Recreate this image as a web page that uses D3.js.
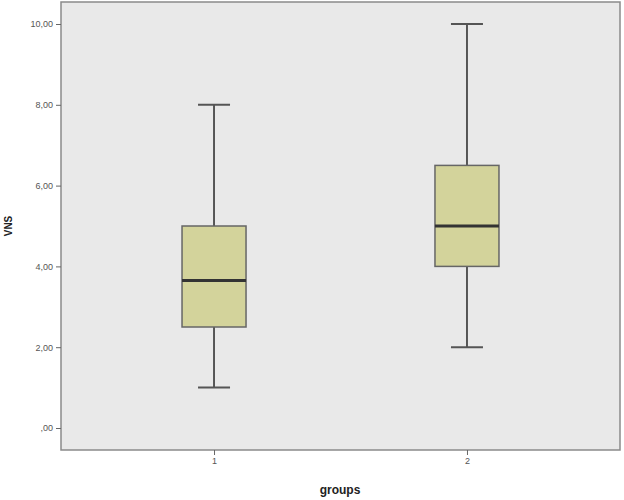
<!DOCTYPE html>
<html>
<head>
<meta charset="utf-8">
<script src="https://cdn.jsdelivr.net/npm/d3@7"></script>
<style>
  body { margin: 0; background: #fff; }
</style>
</head>
<body>
<svg width="624" height="500"></svg>
<script>
// box plot values
var groups = ["1", "2"];
var whiskerLow = [1, 2];
var q1 = [2.5, 4.0];
var median = [3.65, 5.0];
var q3 = [5.0, 6.5];
var whiskerHigh = [8, 10];
var yTicks = [0, 2, 4, 6, 8, 10];

var svg = d3.select("svg");
var plotLeft = 61, plotRight = 620, plotTop = 2, plotBottom = 450;

var xScale = d3.scalePoint().domain(groups).range([plotLeft, plotRight]).padding(0.605);
var yScale = d3.scaleLinear().domain([0, 10]).range([428, 24]);

// plot background + frame
svg.append("rect")
    .attr("x", plotLeft).attr("y", plotTop)
    .attr("width", plotRight - plotLeft).attr("height", plotBottom - plotTop)
    .style("fill", "#e9e9e9")
    .style("stroke", "#8a8a8a")
    .style("stroke-width", 1.5);

var fmt = function(d) { return d3.format(".2f")(d).replace(".", ",").replace(/^0,/, ","); };

var yAxis = svg.append("g")
    .attr("transform", "translate(" + plotLeft + ",0)")
    .call(d3.axisLeft(yScale).tickValues(yTicks).tickSize(5).tickFormat(fmt));
yAxis.select(".domain").remove();
yAxis.selectAll("line").style("stroke", "#666");
yAxis.selectAll("text")
    .style("font-family", "Arial, 'Liberation Sans'")
    .style("font-size", "9px")
    .style("fill", "#555");

var xAxis = svg.append("g")
    .attr("transform", "translate(0," + plotBottom + ")")
    .call(d3.axisBottom(xScale).tickSize(5));
xAxis.select(".domain").remove();
xAxis.selectAll("line").style("stroke", "#666");
xAxis.selectAll("text")
    .style("font-family", "Arial, 'Liberation Sans'")
    .style("font-size", "9px")
    .style("fill", "#555");

var boxW = 64, capW = 32;
var data = groups.map(function(g, i) {
    return { g: g, lo: whiskerLow[i], q1: q1[i], med: median[i], q3: q3[i], hi: whiskerHigh[i] };
});

var box = svg.append("g").selectAll("g").data(data).enter().append("g");

// whiskers
box.append("line")
    .attr("x1", function(d) { return xScale(d.g); })
    .attr("x2", function(d) { return xScale(d.g); })
    .attr("y1", function(d) { return yScale(d.hi); })
    .attr("y2", function(d) { return yScale(d.q3); })
    .style("stroke", "#555").style("stroke-width", 2);
box.append("line")
    .attr("x1", function(d) { return xScale(d.g); })
    .attr("x2", function(d) { return xScale(d.g); })
    .attr("y1", function(d) { return yScale(d.q1); })
    .attr("y2", function(d) { return yScale(d.lo); })
    .style("stroke", "#555").style("stroke-width", 2);
box.append("line")
    .attr("x1", function(d) { return xScale(d.g) - capW / 2; })
    .attr("x2", function(d) { return xScale(d.g) + capW / 2; })
    .attr("y1", function(d) { return yScale(d.hi); })
    .attr("y2", function(d) { return yScale(d.hi); })
    .style("stroke", "#555").style("stroke-width", 2);
box.append("line")
    .attr("x1", function(d) { return xScale(d.g) - capW / 2; })
    .attr("x2", function(d) { return xScale(d.g) + capW / 2; })
    .attr("y1", function(d) { return yScale(d.lo); })
    .attr("y2", function(d) { return yScale(d.lo); })
    .style("stroke", "#555").style("stroke-width", 2);

// boxes
box.append("rect")
    .attr("x", function(d) { return xScale(d.g) - boxW / 2; })
    .attr("y", function(d) { return yScale(d.q3); })
    .attr("width", boxW)
    .attr("height", function(d) { return yScale(d.q1) - yScale(d.q3); })
    .style("fill", "#d3d39b")
    .style("stroke", "#666")
    .style("stroke-width", 1.5);

// medians
box.append("line")
    .attr("x1", function(d) { return xScale(d.g) - boxW / 2; })
    .attr("x2", function(d) { return xScale(d.g) + boxW / 2; })
    .attr("y1", function(d) { return yScale(d.med); })
    .attr("y2", function(d) { return yScale(d.med); })
    .style("stroke", "#333").style("stroke-width", 3);

// axis titles
svg.append("text")
    .attr("x", 340).attr("y", 494)
    .attr("text-anchor", "middle")
    .style("font-family", "Arial, 'Liberation Sans'")
    .style("font-size", "12px")
    .style("font-weight", "bold")
    .style("fill", "#222")
    .text("groups");

svg.append("text")
    .attr("text-anchor", "middle")
    .attr("transform", "translate(12,226)rotate(-90)")
    .style("font-family", "Arial, 'Liberation Sans'")
    .style("font-size", "10px")
    .style("font-weight", "bold")
    .style("fill", "#222")
    .text("VNS");
</script>
</body>
</html>
